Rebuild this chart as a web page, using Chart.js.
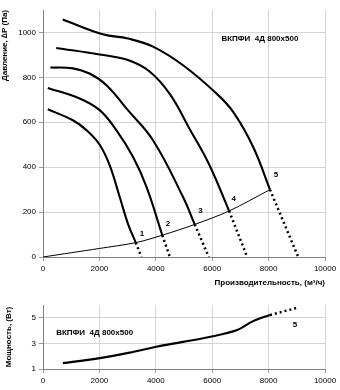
<!DOCTYPE html>
<html>
<head>
<meta charset="utf-8">
<script src="https://cdn.jsdelivr.net/npm/chart.js@4/dist/chart.umd.min.js"></script>
<style>
body { margin: 0; background: #fff; }
#top { position: absolute; left: 0; top: 0; }
#bottom { position: absolute; left: 0; top: 290px; }
</style>
</head>
<body>
<canvas id="top" width="340" height="290"></canvas>
<canvas id="bottom" width="340" height="100"></canvas>
<script>
// pressure curves [airflow m3/h, pressure Pa]
var curve1 = [[170,658],[1060,609],[1540,565],[2010,500],[2360,410],[2720,267],[3010,149],[3290,64]];
var curve2 = [[170,753],[1300,706],[2010,654],[2600,565],[3190,446],[3670,312],[4230,97]];
var curve3 = [[260,844],[1060,840],[1650,817],[2250,765],[3010,654],[3900,520],[4966,267],[5380,145]];
var curve4 = [[470,931],[2010,902],[3010,877],[3780,826],[4500,725],[5200,570],[5900,410],[6600,205]];
var curve5 = [[700,1058],[2120,992],[3010,973],[3900,937],[4966,854],[6152,728],[6743,646],[7453,490],[8050,300]];
// dotted tails down to zero
var tail1 = [[3290,64],[3490,0]];
var tail2 = [[4230,97],[4500,0]];
var tail3 = [[5380,145],[5880,0]];
var tail4 = [[6600,205],[7240,0]];
var tail5 = [[8050,300],[9050,0]];
// system line
var system = [[0,0],[1000,19],[2000,38],[3290,64],[4230,97],[5380,145],[6600,205],[8050,300]];
// power
var power = [[705,1.46],[2010,1.85],[3070,2.28],[4020,2.74],[4970,3.12],[6030,3.56],[6860,4.02],[7450,4.74],[8050,5.22]];
var powerTail = [[8050,5.22],[9080,5.82]];

var curveNames = ['1','2','3','4','5'];
var titleText = 'ВКПФИ  4Д 800x500';

Chart.defaults.font.family = '"Liberation Sans", Arial, sans-serif';
Chart.defaults.color = '#000';

function pts(arr) {
    return arr.map(function(p){ return {x: p[0], y: p[1]}; });
}

function solid(arr) {
    return {data: pts(arr), borderColor: '#000', borderWidth: 2.1, pointRadius: 0, tension: 0.4, showLine: true};
}
function dotted(arr) {
    return {data: pts(arr), borderColor: '#000', borderWidth: 2.5, borderDash: [2,3], pointRadius: 0, showLine: true};
}

var labelPlugin = {
    id: 'labels',
    afterDatasetsDraw: function(chart, args, opts) {
        var ctx = chart.ctx;
        var xs = chart.scales.x, ys = chart.scales.y;
        ctx.save();
        ctx.fillStyle = '#000';
        ctx.textAlign = 'center';
        ctx.textBaseline = 'middle';
        opts.items.forEach(function(it) {
            ctx.font = it.font;
            ctx.fillText(it.text, xs.getPixelForValue(it.x), ys.getPixelForValue(it.y));
        });
        ctx.restore();
    }
};

var gridStyle = {color: '#d4d4d4', tickLength: 4, tickColor: '#999'};
var borderStyle = {color: '#808080', width: 1};

function xAxis(h, withTitle) {
    return {
        type: 'linear', min: 0, max: 10000,
        grid: gridStyle, border: borderStyle,
        ticks: {stepSize: 1000, maxRotation: 0, padding: 3, font: {size: 8},
            callback: function(v){ return v % 2000 === 0 ? v : null; }},
        title: {display: withTitle, text: 'Производительность, (м³/ч)', align: 'end',
            font: {size: 8, weight: 'bold'}, padding: {top: 0, bottom: 2}},
        afterFit: function(s){ s.height = h; }
    };
}

var lblFont = 'bold 8px "Liberation Sans", Arial';
var topLabels = [
    {text: curveNames[0], x: 3510, y: 104, font: lblFont},
    {text: curveNames[1], x: 4435, y: 146, font: lblFont},
    {text: curveNames[2], x: 5583, y: 205, font: lblFont},
    {text: curveNames[3], x: 6767, y: 258, font: lblFont},
    {text: curveNames[4], x: 8260, y: 367, font: lblFont},
    {text: titleText, x: 7690, y: 970, font: lblFont}
];

new Chart(document.getElementById('top').getContext('2d'), {
    type: 'scatter',
    data: {
        datasets: [
            solid(curve1), solid(curve2), solid(curve3), solid(curve4), solid(curve5),
            dotted(tail1), dotted(tail2), dotted(tail3), dotted(tail4), dotted(tail5),
            {data: pts(system), borderColor: '#000', borderWidth: 1, pointRadius: 0, showLine: true, tension: 0.3}
        ]
    },
    options: {
        responsive: false,
        animation: false,
        layout: {padding: {left: 0, right: 15, top: 10, bottom: 0}},
        plugins: {legend: {display: false}, tooltip: {enabled: false}, labels: {items: topLabels}},
        scales: {
            x: xAxis(33, true),
            y: {
                type: 'linear', min: 0, max: 1100,
                grid: gridStyle, border: borderStyle,
                ticks: {stepSize: 100, padding: 3, font: {size: 8},
                    callback: function(v){ return v % 200 === 0 ? v : null; }},
                title: {display: true, text: 'Давление, ∆P (Па)', align: 'end',
                    font: {size: 8, weight: 'bold'}, padding: {top: 0, bottom: 0}},
                afterFit: function(s){ s.width = 43; }
            }
        }
    },
    plugins: [labelPlugin]
});

var bottomLabels = [
    {text: curveNames[4], x: 8935, y: 4.46, font: lblFont},
    {text: titleText, x: 1830, y: 3.79, font: lblFont}
];

new Chart(document.getElementById('bottom').getContext('2d'), {
    type: 'scatter',
    data: {
        datasets: [
            {data: pts(power), borderColor: '#000', borderWidth: 2.1, pointRadius: 0, showLine: true, tension: 0.3},
            dotted(powerTail)
        ]
    },
    options: {
        responsive: false,
        animation: false,
        layout: {padding: {left: 0, right: 15, top: 15, bottom: 0}},
        plugins: {legend: {display: false}, tooltip: {enabled: false}, labels: {items: bottomLabels}},
        scales: {
            x: xAxis(21, false),
            y: {
                type: 'linear', min: 1, max: 6,
                grid: gridStyle, border: borderStyle,
                ticks: {stepSize: 1, padding: 3, font: {size: 8},
                    callback: function(v){ return v % 2 === 1 ? v : null; }},
                title: {display: true, text: 'Мощность, (Вт)',
                    font: {size: 8, weight: 'bold'}, padding: {top: 4, bottom: 0}},
                afterFit: function(s){ s.width = 43; }
            }
        }
    },
    plugins: [labelPlugin]
});
</script>
</body>
</html>
